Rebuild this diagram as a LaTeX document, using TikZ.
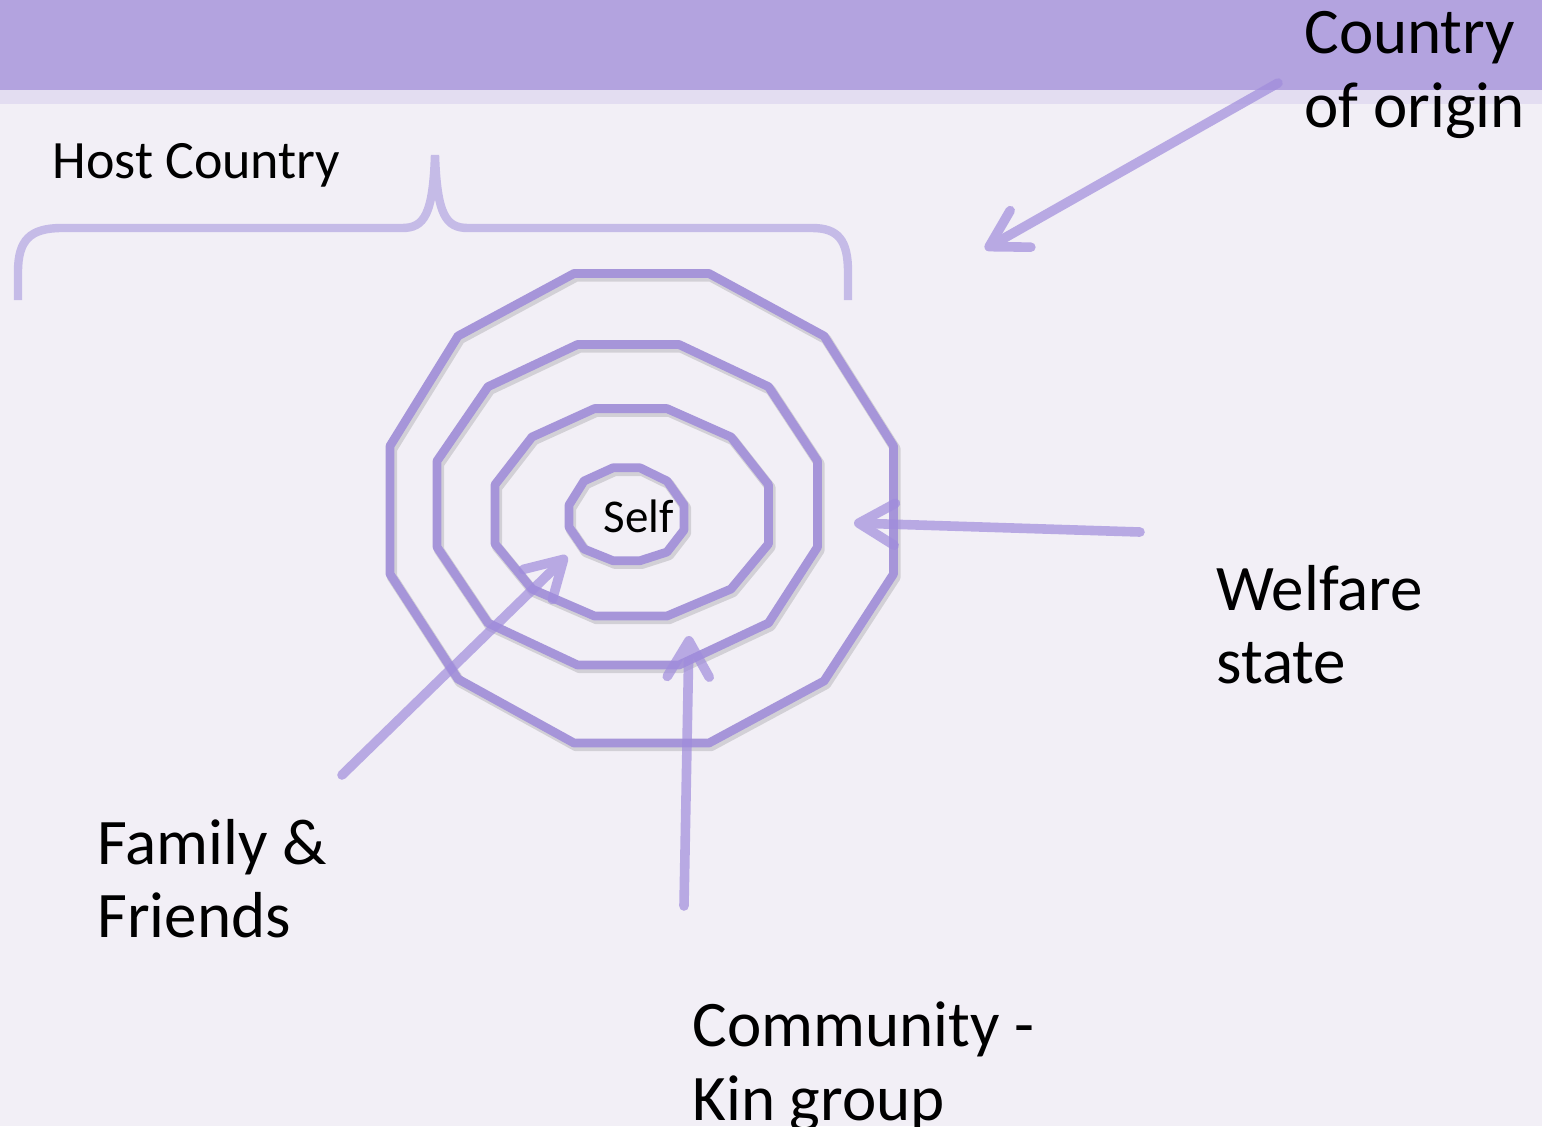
\documentclass[tikz,border=0pt]{standalone}
\usepackage{fontspec}
\setmainfont{Carlito}
\usetikzlibrary{arrows.meta}
\definecolor{bgc}{RGB}{242,239,246}
\definecolor{bandc}{RGB}{179,163,223}
\definecolor{bandlightc}{RGB}{227,221,241}
\definecolor{ringc}{RGB}{166,149,217}
\definecolor{arrowc}{RGB}{160,140,220}
\definecolor{bracec}{RGB}{197,187,231}
\begin{document}
\begin{tikzpicture}[x=0.5pt,y=-0.5pt,
  ringline/.style={draw=ringc, line width=4.4pt, line join=round},
  ringshadow/.style={draw=black, draw opacity=0.13, line width=5.2pt, line join=round},
  conn/.style={draw=arrowc, line width=4.8pt, line cap=round,
    -{Straight Barb[length=18pt,width=21pt,round]}},
  connwrap/.style={transparency group, opacity=0.7},
  bracestyle/.style={draw=bracec, line width=4.2pt},
  bigtxt/.style={anchor=base west, inner sep=0pt, align=left, font=\fontsize{32.5}{36.5}\selectfont},
]
\useasboundingbox (0,0) rectangle (1542,1126);
% background
\fill[bgc] (0,0) rectangle (1542,1126);
\fill[bandc] (0,0) rectangle (1542,90);
\fill[bandlightc] (0,90) rectangle (1542,104);

% brace
\draw[bracestyle] (18,300) -- (18,272) .. controls (18,240) and (30,228) .. (62,228)
  -- (402,228) .. controls (424,228) and (433,215) .. (435,155)
  .. controls (437,215) and (446,228) .. (468,228)
  -- (812,228) .. controls (838,228) and (848,240) .. (848,272) -- (848,300);

% rings (shadows)
\begin{scope}[shift={(2,3)}]
\draw[ringshadow] (574,273.5) -- (709,273.5) -- (824,336) -- (893.5,446) -- (893.5,574) -- (824,681)
  -- (709,743) -- (574,743) -- (458,679) -- (390,574) -- (390,446) -- (458,336) -- cycle;
\draw[ringshadow] (577.6,344.5) -- (679,344.5) -- (768.5,386.7) -- (817.5,461) -- (817.5,547) -- (768.5,623)
  -- (679,665) -- (577.6,665) -- (488,623) -- (437,547) -- (437,461) -- (488,386.7) -- cycle;
\draw[ringshadow] (594.5,408.6) -- (667,408.6) -- (731,437) -- (768.5,484.7) -- (768.5,543.8) -- (731,589)
  -- (667,616) -- (594.5,616) -- (532,589) -- (495,543.8) -- (495,484.7) -- (532,437) -- cycle;
\draw[ringshadow] (613,467.8) -- (640,467.8) -- (667,481) -- (684,505) -- (684,530) -- (667,552)
  -- (640,560.7) -- (613,560.7) -- (584,549) -- (569,527) -- (569,505) -- (584,481) -- cycle;
\end{scope}
% rings
\draw[ringline] (574,273.5) -- (709,273.5) -- (824,336) -- (893.5,446) -- (893.5,574) -- (824,681)
  -- (709,743) -- (574,743) -- (458,679) -- (390,574) -- (390,446) -- (458,336) -- cycle;
\draw[ringline] (577.6,344.5) -- (679,344.5) -- (768.5,386.7) -- (817.5,461) -- (817.5,547) -- (768.5,623)
  -- (679,665) -- (577.6,665) -- (488,623) -- (437,547) -- (437,461) -- (488,386.7) -- cycle;
\draw[ringline] (594.5,408.6) -- (667,408.6) -- (731,437) -- (768.5,484.7) -- (768.5,543.8) -- (731,589)
  -- (667,616) -- (594.5,616) -- (532,589) -- (495,543.8) -- (495,484.7) -- (532,437) -- cycle;
\draw[ringline] (613,467.8) -- (640,467.8) -- (667,481) -- (684,505) -- (684,530) -- (667,552)
  -- (640,560.7) -- (613,560.7) -- (584,549) -- (569,527) -- (569,505) -- (584,481) -- cycle;

% texts (multi-line nodes: base = last line's baseline)
\node[anchor=base, inner sep=0pt, font=\fontsize{23.5}{28}\selectfont] (self) at (638.5,532) {Self};
\node[anchor=base west, inner sep=0pt, font=\fontsize{27}{32}\selectfont] (host) at (52,178) {Host Country};
\node[bigtxt, font=\fontsize{32.5}{37}\selectfont] (origin) at (1304,127) {Country\\of origin};
\node[bigtxt] (welfare) at (1216,683) {Welfare\\state};
\node[bigtxt] (family) at (97,937) {Family \&\\Friends};
\node[bigtxt, font=\fontsize{32.5}{37}\selectfont] (community) at (692,1120) {Community -\\Kin group};

% connector ends
\coordinate (originTail) at (1278,83);
\coordinate (originTip) at (985,249);
\coordinate (welfareTail) at (1140,532);
\coordinate (welfareTip) at (854,523);
\coordinate (familyTail) at (342,775);
\coordinate (familyTip) at (567,556);
\coordinate (communityTail) at (684,906);
\coordinate (communityTip) at (689,636);

\begin{scope}[connwrap]\draw[conn] (originTail) -- (originTip);\end{scope}
\begin{scope}[connwrap]\draw[conn] (welfareTail) -- (welfareTip);\end{scope}
\begin{scope}[connwrap]\draw[conn] (familyTail) -- (familyTip);\end{scope}
\begin{scope}[connwrap]\draw[conn] (communityTail) -- (communityTip);\end{scope}
\end{tikzpicture}
\end{document}
